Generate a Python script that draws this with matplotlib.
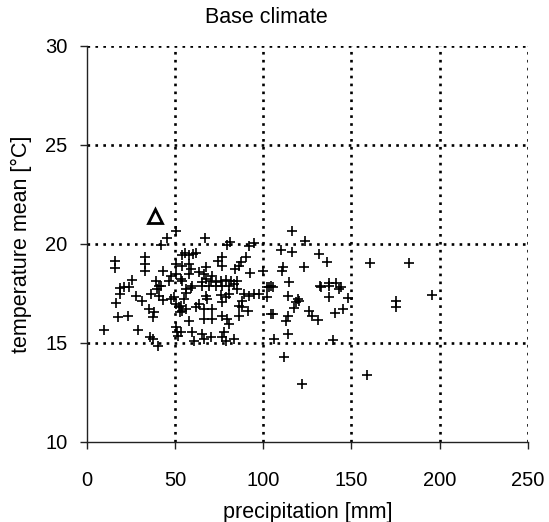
import matplotlib
matplotlib.use("Agg")
import matplotlib.pyplot as plt

plt.rcParams["font.family"] = ["Liberation Sans", "DejaVu Sans"]

# scenario points (precipitation [mm], mean temperature [C])
precip = [
    50.8, 45.6, 42.2, 15.9, 15.9, 33.0, 33.0, 33.0, 50.8, 43.2,
    47.5, 50.8, 53.2, 39.0, 25.8, 21.0, 40.9, 46.6, 53.8,
    19.1, 23.9, 19.1, 16.3, 27.7, 31.4, 36.2, 40.0, 41.9, 40.9, 43.2,
    47.5, 49.4, 50.8, 52.3, 17.8, 23.5, 9.7, 29.2, 35.2, 38.1, 37.5,
    35.8, 37.7, 40.5, 50.8, 51.3, 51.9, 52.7,
    67.0, 81.1, 79.4, 94.9, 92.0, 55.7, 58.0, 60.2, 62.1, 76.9, 74.6, 76.9,
    90.2, 87.3, 86.0, 84.1, 54.2, 58.0, 58.9, 58.0, 67.4, 92.4, 99.6, 103.0,
    63.6, 66.5, 67.4, 65.5, 71.2, 70.3, 73.1, 76.0, 78.8, 81.6, 83.5, 85.4,
    54.2, 56.1, 59.8,
    58.9, 56.1, 55.1, 53.2, 54.2, 56.1, 65.5, 69.3, 73.1, 76.9, 80.7,
    67.4, 68.4, 63.6, 61.8, 66.5, 71.2, 76.0, 78.8, 80.7, 76.9,
    85.4, 89.2, 92.0, 94.9, 97.7, 102.4, 88.2, 86.4, 88.2, 91.1,
    58.0, 66.5, 71.2, 76.9, 79.7, 80.7, 86.4, 53.2, 59.8, 65.5, 70.3,
    66.5, 77.8, 76.9, 60.8, 78.8, 83.5, 104.4, 102.4,
    116.3, 123.9, 110.0, 116.3, 131.8, 136.0, 111.4, 110.6, 122.9, 114.4,
    104.4, 132.2, 137.5, 141.3, 144.1,
    160.6, 182.6,
    105.3, 113.8, 119.5, 120.5, 118.6, 117.6, 132.8, 137.5, 143.2, 137.1,
    147.9, 145.1, 140.9, 125.7, 127.7, 130.9, 105.3, 113.8, 112.9, 113.8,
    106.2, 139.4, 111.9, 121.8,
    195.8, 175.4, 175.4, 158.7,
]
temp = [
    20.64, 20.30, 19.96, 19.15, 18.78, 19.33, 18.96, 18.65, 18.96, 18.62,
    18.40, 18.50, 18.23, 18.10, 18.18, 17.84, 17.89, 18.10, 19.44,
    17.77, 17.80, 17.47, 17.00, 17.38, 17.13, 17.47, 17.70, 17.88, 17.38, 17.16,
    17.21, 17.30, 16.96, 16.79, 16.29, 16.34, 15.66, 15.66, 16.71, 16.54, 16.32,
    15.27, 15.19, 14.82, 15.78, 15.52, 15.35, 16.54,
    20.29, 20.09, 19.96, 20.04, 19.91, 19.53, 19.44, 19.49, 19.56, 19.33, 19.15, 18.90,
    19.33, 19.08, 18.90, 18.73, 18.90, 18.99, 18.73, 18.48, 18.82, 18.51, 18.64, 17.80,
    18.57, 18.48, 18.23, 18.06, 18.40, 18.11, 18.06, 18.14, 18.18, 18.11, 17.97, 18.11,
    18.11, 17.72, 17.89,
    17.77, 17.50, 17.21, 16.87, 16.62, 16.71, 17.89, 17.89, 17.89, 17.89, 17.89,
    17.38, 17.21, 16.96, 16.79, 16.71, 16.71, 17.43, 17.30, 17.47, 17.04,
    17.72, 17.47, 17.38, 17.47, 17.47, 17.80, 17.13, 16.87, 16.79, 16.62,
    16.11, 16.20, 16.20, 16.37, 16.20, 15.95, 16.37, 15.52, 15.52, 15.44, 15.27,
    15.19, 15.52, 15.27, 15.10, 15.10, 15.19, 16.45, 17.30,
    20.64, 20.12, 19.70, 19.61, 19.49, 19.07, 18.85, 18.65, 18.85, 18.06,
    17.89, 17.89, 18.00, 18.00, 17.80,
    19.02, 19.02,
    17.80, 17.38, 17.21, 17.13, 17.04, 16.74, 17.80, 17.89, 17.72, 17.33,
    17.26, 16.71, 16.49, 16.62, 16.37, 16.15, 16.45, 16.37, 16.08, 15.42,
    15.19, 15.14, 14.29, 12.91,
    17.43, 17.10, 16.83, 13.36,
]

# base climate point
base_precip = [38.5]
base_temp = [21.43]

xticks = [0, 50, 100, 150, 200, 250]
yticks = [10, 15, 20, 25, 30]

fig = plt.figure(figsize=(5.49, 5.22), dpi=100)
ax = fig.add_axes([0.158, 0.1538, 0.9617 - 0.158, 0.9119 - 0.1538])

ax.plot(precip, temp, "+", color="black", markersize=7, markeredgewidth=1.2,
        linestyle="none", zorder=3)
ax.plot(base_precip, base_temp, "^", color="black", markerfacecolor="none",
        markersize=10, markeredgewidth=2, linestyle="none", zorder=4)

ax.set_xlim(0, 250)
ax.set_ylim(10, 30)
ax.set_xticks(xticks)
ax.set_yticks(yticks)
ax.grid(True, color="black", linestyle=(0, (1, 2)), linewidth=1.9)
ax.set_axisbelow(True)
# no dotted line on top of the solid axis lines
ax.get_xgridlines()[0].set_visible(False)
ax.get_ygridlines()[0].set_visible(False)

for side in ("top", "right"):
    ax.spines[side].set_visible(False)
for side in ("left", "bottom"):
    ax.spines[side].set_linewidth(1.0)
    ax.spines[side].set_color("#222222")

ax.tick_params(direction="out", length=5, width=1, labelsize=14.5, color="#222222")
ax.tick_params(axis="y", pad=9)
ax.tick_params(axis="x", pad=16)

ax.set_xlabel("precipitation [mm]", fontsize=15.5, labelpad=9)
ax.set_ylabel("temperature mean [°C]", fontsize=15.5, labelpad=9)
fig.text(0.485, 0.966, "Base climate", ha="center", va="center", fontsize=15.5)

fig.savefig("out.png", dpi=100)
